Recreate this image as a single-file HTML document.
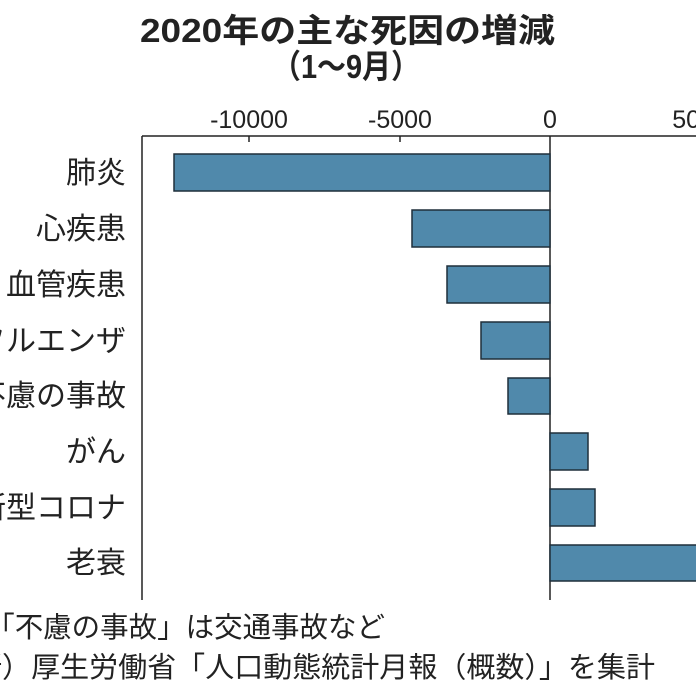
<html><body style="margin:0;background:#fff">
<svg width="696" height="696" xmlns="http://www.w3.org/2000/svg" style="display:block;font-family:'Liberation Sans','Noto Sans CJK JP',sans-serif">
<text x="140" y="42" font-size="33" font-weight="bold" fill="#222" textLength="415" lengthAdjust="spacingAndGlyphs">2020年の主な死因の増減</text>
<text x="272" y="78" font-size="33" font-weight="bold" fill="#222" textLength="148" lengthAdjust="spacingAndGlyphs">（1～9月）</text>
<g font-size="25" fill="#222" text-anchor="middle">
<text x="249" y="128">-10000</text><text x="400" y="128">-5000</text><text x="550" y="128">0</text><text x="700" y="128">5000</text>
</g>
<g stroke="#222" stroke-width="1.5" fill="none">
<line x1="142" y1="136" x2="696" y2="136"/>
<line x1="142" y1="136" x2="142" y2="600"/>
<line x1="550" y1="136" x2="550" y2="600"/>
<line x1="249" y1="136" x2="249" y2="142"/><line x1="400" y1="136" x2="400" y2="142"/>
</g>
<g fill="#5089ab" stroke="#1f2f3a" stroke-width="1.5">
<rect x="174" y="154" width="376" height="37"/>
<rect x="412" y="210" width="138" height="37"/>
<rect x="447" y="266" width="103" height="37"/>
<rect x="481" y="322" width="69" height="37"/>
<rect x="508" y="378" width="42" height="36"/>
<rect x="550" y="433" width="38" height="37"/>
<rect x="550" y="489" width="45" height="37"/>
<rect x="550" y="545" width="160" height="36"/>
</g>
<g font-size="30" fill="#222" text-anchor="end">
<text x="126" y="183">肺炎</text><text x="126" y="239">心疾患</text><text x="126" y="295">血管疾患</text>
<text x="126" y="351">インフルエンザ</text><text x="126" y="406">不慮の事故</text><text x="126" y="462">がん</text>
<text x="126" y="518">新型コロナ</text><text x="126" y="573">老衰</text>
</g>
<g font-size="28.5" fill="#222">
<text x="-85" y="637" textLength="470" lengthAdjust="spacingAndGlyphs">（注）「不慮の事故」は交通事故など</text>
<text x="-85" y="677" textLength="740" lengthAdjust="spacingAndGlyphs">（出所）厚生労働省「人口動態統計月報（概数）」を集計</text>
</g>
</svg>
</body></html>
